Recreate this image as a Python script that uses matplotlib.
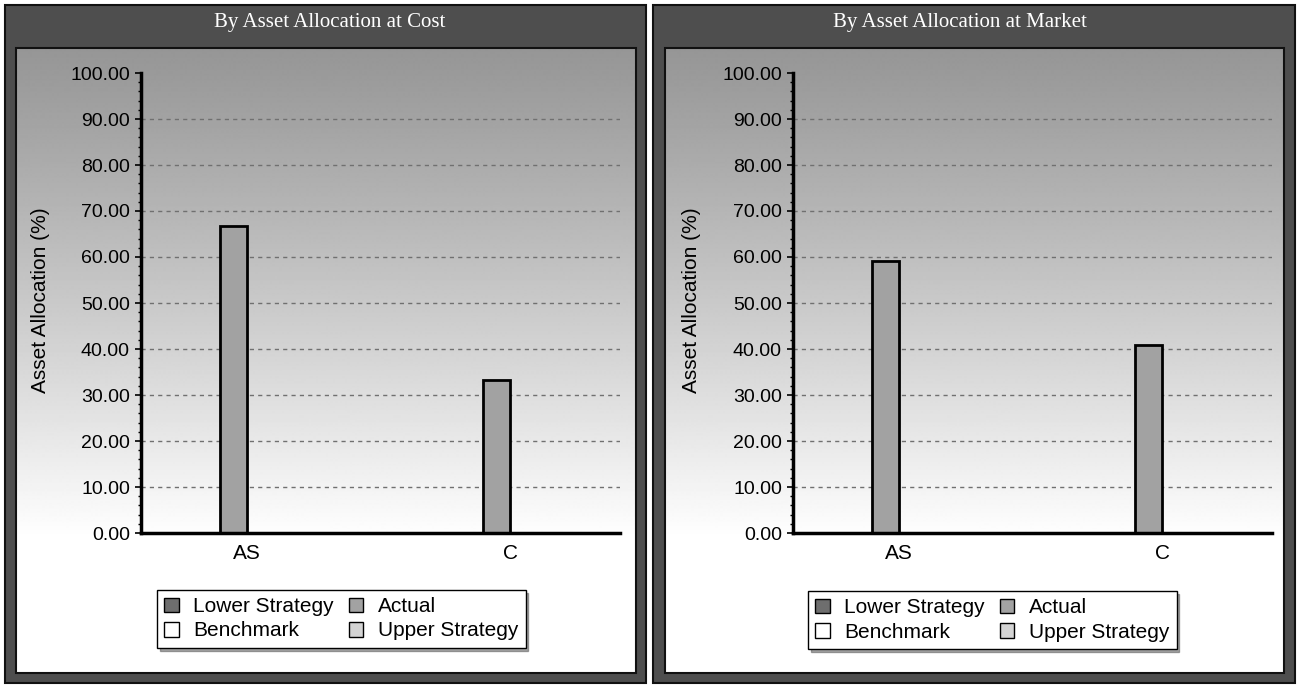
import numpy as np
import matplotlib
matplotlib.use("Agg")
import matplotlib.pyplot as plt
from matplotlib.patches import Rectangle, Patch

# ---- data ----
categories = ["AS", "C"]
series_names = ["Lower Strategy", "Actual", "Benchmark", "Upper Strategy"]
cost_lower = [0.0, 0.0]
cost_actual = [66.8, 33.2]
cost_benchmark = [0.0, 0.0]
cost_upper = [0.0, 0.0]
market_lower = [0.0, 0.0]
market_actual = [59.2, 40.8]
market_benchmark = [0.0, 0.0]
market_upper = [0.0, 0.0]
panel_titles = ["By Asset Allocation at Cost", "By Asset Allocation at Market"]
y_label = "Asset Allocation (%)"
y_ticks = [0, 10, 20, 30, 40, 50, 60, 70, 80, 90, 100]

series_colors = ["#6e6e6e", "#a2a2a2", "#ffffff", "#d4d4d4"]

W, H = 1298, 686
plt.rcParams['font.family'] = ['Liberation Sans', 'DejaVu Sans']
fig = plt.figure(figsize=(W / 100, H / 100), dpi=100)
fig.patch.set_facecolor("white")

bg = fig.add_axes([0, 0, 1, 1])
bg.set_xlim(0, W)
bg.set_ylim(H, 0)
bg.axis("off")

panels = [
    dict(frame=(5, 5, 646, 683), inner=(16, 48, 636, 673), title_x=330,
         ax=(141, 620, 73, 533), legend=(157, 590), ylab_x=50,
         data=(cost_lower, cost_actual, cost_benchmark, cost_upper)),
    dict(frame=(653, 5, 1295, 683), inner=(665, 48, 1284, 673), title_x=960,
         ax=(793, 1272, 73, 533), legend=(808, 591), ylab_x=701,
         data=(market_lower, market_actual, market_benchmark, market_upper)),
]

grad_vals = np.clip(150 + 105 * (np.arange(0, 626) / 490.0) ** 1.1, 0, 255).reshape(-1, 1)

for p, title in zip(panels, panel_titles):
    x0, y0, x1, y1 = p["frame"]
    bg.add_patch(Rectangle((x0, y0), x1 - x0, y1 - y0, facecolor="#4e4e4e",
                           edgecolor="#111111", lw=1.5, zorder=1))
    ix0, iy0, ix1, iy1 = p["inner"]
    bg.imshow(grad_vals, cmap="gray", vmin=0, vmax=255, aspect="auto",
              extent=(ix0, ix1, iy1, iy0), zorder=2, interpolation="bilinear")
    bg.add_patch(Rectangle((ix0, iy0), ix1 - ix0, iy1 - iy0, facecolor="none",
                           edgecolor="#111111", lw=1.5, zorder=3))
    bg.text(p["title_x"], 22, title, color="white", ha="center", va="center",
            fontsize=15, family=["Liberation Serif", "DejaVu Serif"], zorder=4)

bg.set_xlim(0, W)
bg.set_ylim(H, 0)

x = np.arange(len(categories))
bw = 0.103
offsets = [-1.5 * bw, -0.5 * bw, 0.5 * bw, 1.5 * bw]

for p in panels:
    ax0, ax1, ayt, ayb = p["ax"]
    ax = fig.add_axes([ax0 / W, (H - ayb) / H, (ax1 - ax0) / W, (ayb - ayt) / H])
    ax.set_facecolor("none")
    for vals, col, off in zip(p["data"], series_colors, offsets):
        heights = np.asarray(vals)
        ax.bar(x + off, heights, width=bw, color=col,
               edgecolor="black" if heights.max() > 0 else "none",
               linewidth=2, zorder=3)
    ax.set_ylim(0, 100)
    ax.set_xlim(-0.403, 1.418)
    ax.set_yticks(y_ticks)
    ax.set_yticklabels([f"{v:.2f}" for v in y_ticks], fontsize=14)
    ax.set_yticks(np.arange(0, 101, 2), minor=True)
    ax.tick_params(axis="y", which="major", length=4, width=1.2, pad=4)
    ax.tick_params(axis="y", which="minor", length=2.5, width=1)
    ax.set_xticks(x)
    ax.set_xticklabels(categories, fontsize=15)
    ax.tick_params(axis="x", length=0, pad=8)
    for yv in y_ticks[1:-1]:
        ax.axhline(yv, color="#707070", lw=1, ls=(0, (3, 3)), zorder=1)
    for s in ["top", "right"]:
        ax.spines[s].set_visible(False)
    for s in ["left", "bottom"]:
        ax.spines[s].set_linewidth(2.5)
        ax.spines[s].set_zorder(5)
    ax.set_ylabel(y_label, fontsize=15)
    ax.yaxis.set_label_coords((p["ylab_x"] - ax0) / (ax1 - ax0), 0.506)

    handles = [Patch(facecolor=series_colors[0], edgecolor="black", lw=1),
               Patch(facecolor=series_colors[2], edgecolor="black", lw=1),
               Patch(facecolor=series_colors[1], edgecolor="black", lw=1),
               Patch(facecolor=series_colors[3], edgecolor="black", lw=1)]
    labels = [series_names[0], series_names[2], series_names[1], series_names[3]]
    lx, ly = p["legend"]
    leg = ax.legend(handles, labels, ncol=2, loc="upper left",
                    bbox_to_anchor=(lx / W, 1 - ly / H), bbox_transform=fig.transFigure,
                    fontsize=15, frameon=True, fancybox=False, shadow=True,
                    handlelength=0.7, handleheight=0.7, handletextpad=0.7,
                    columnspacing=0.7, labelspacing=0.25, borderpad=0.35,
                    borderaxespad=0)
    leg.get_frame().set_edgecolor("black")
    leg.get_frame().set_linewidth(1)
    leg.get_frame().set_facecolor("white")

fig.savefig("out.png", dpi=100)
